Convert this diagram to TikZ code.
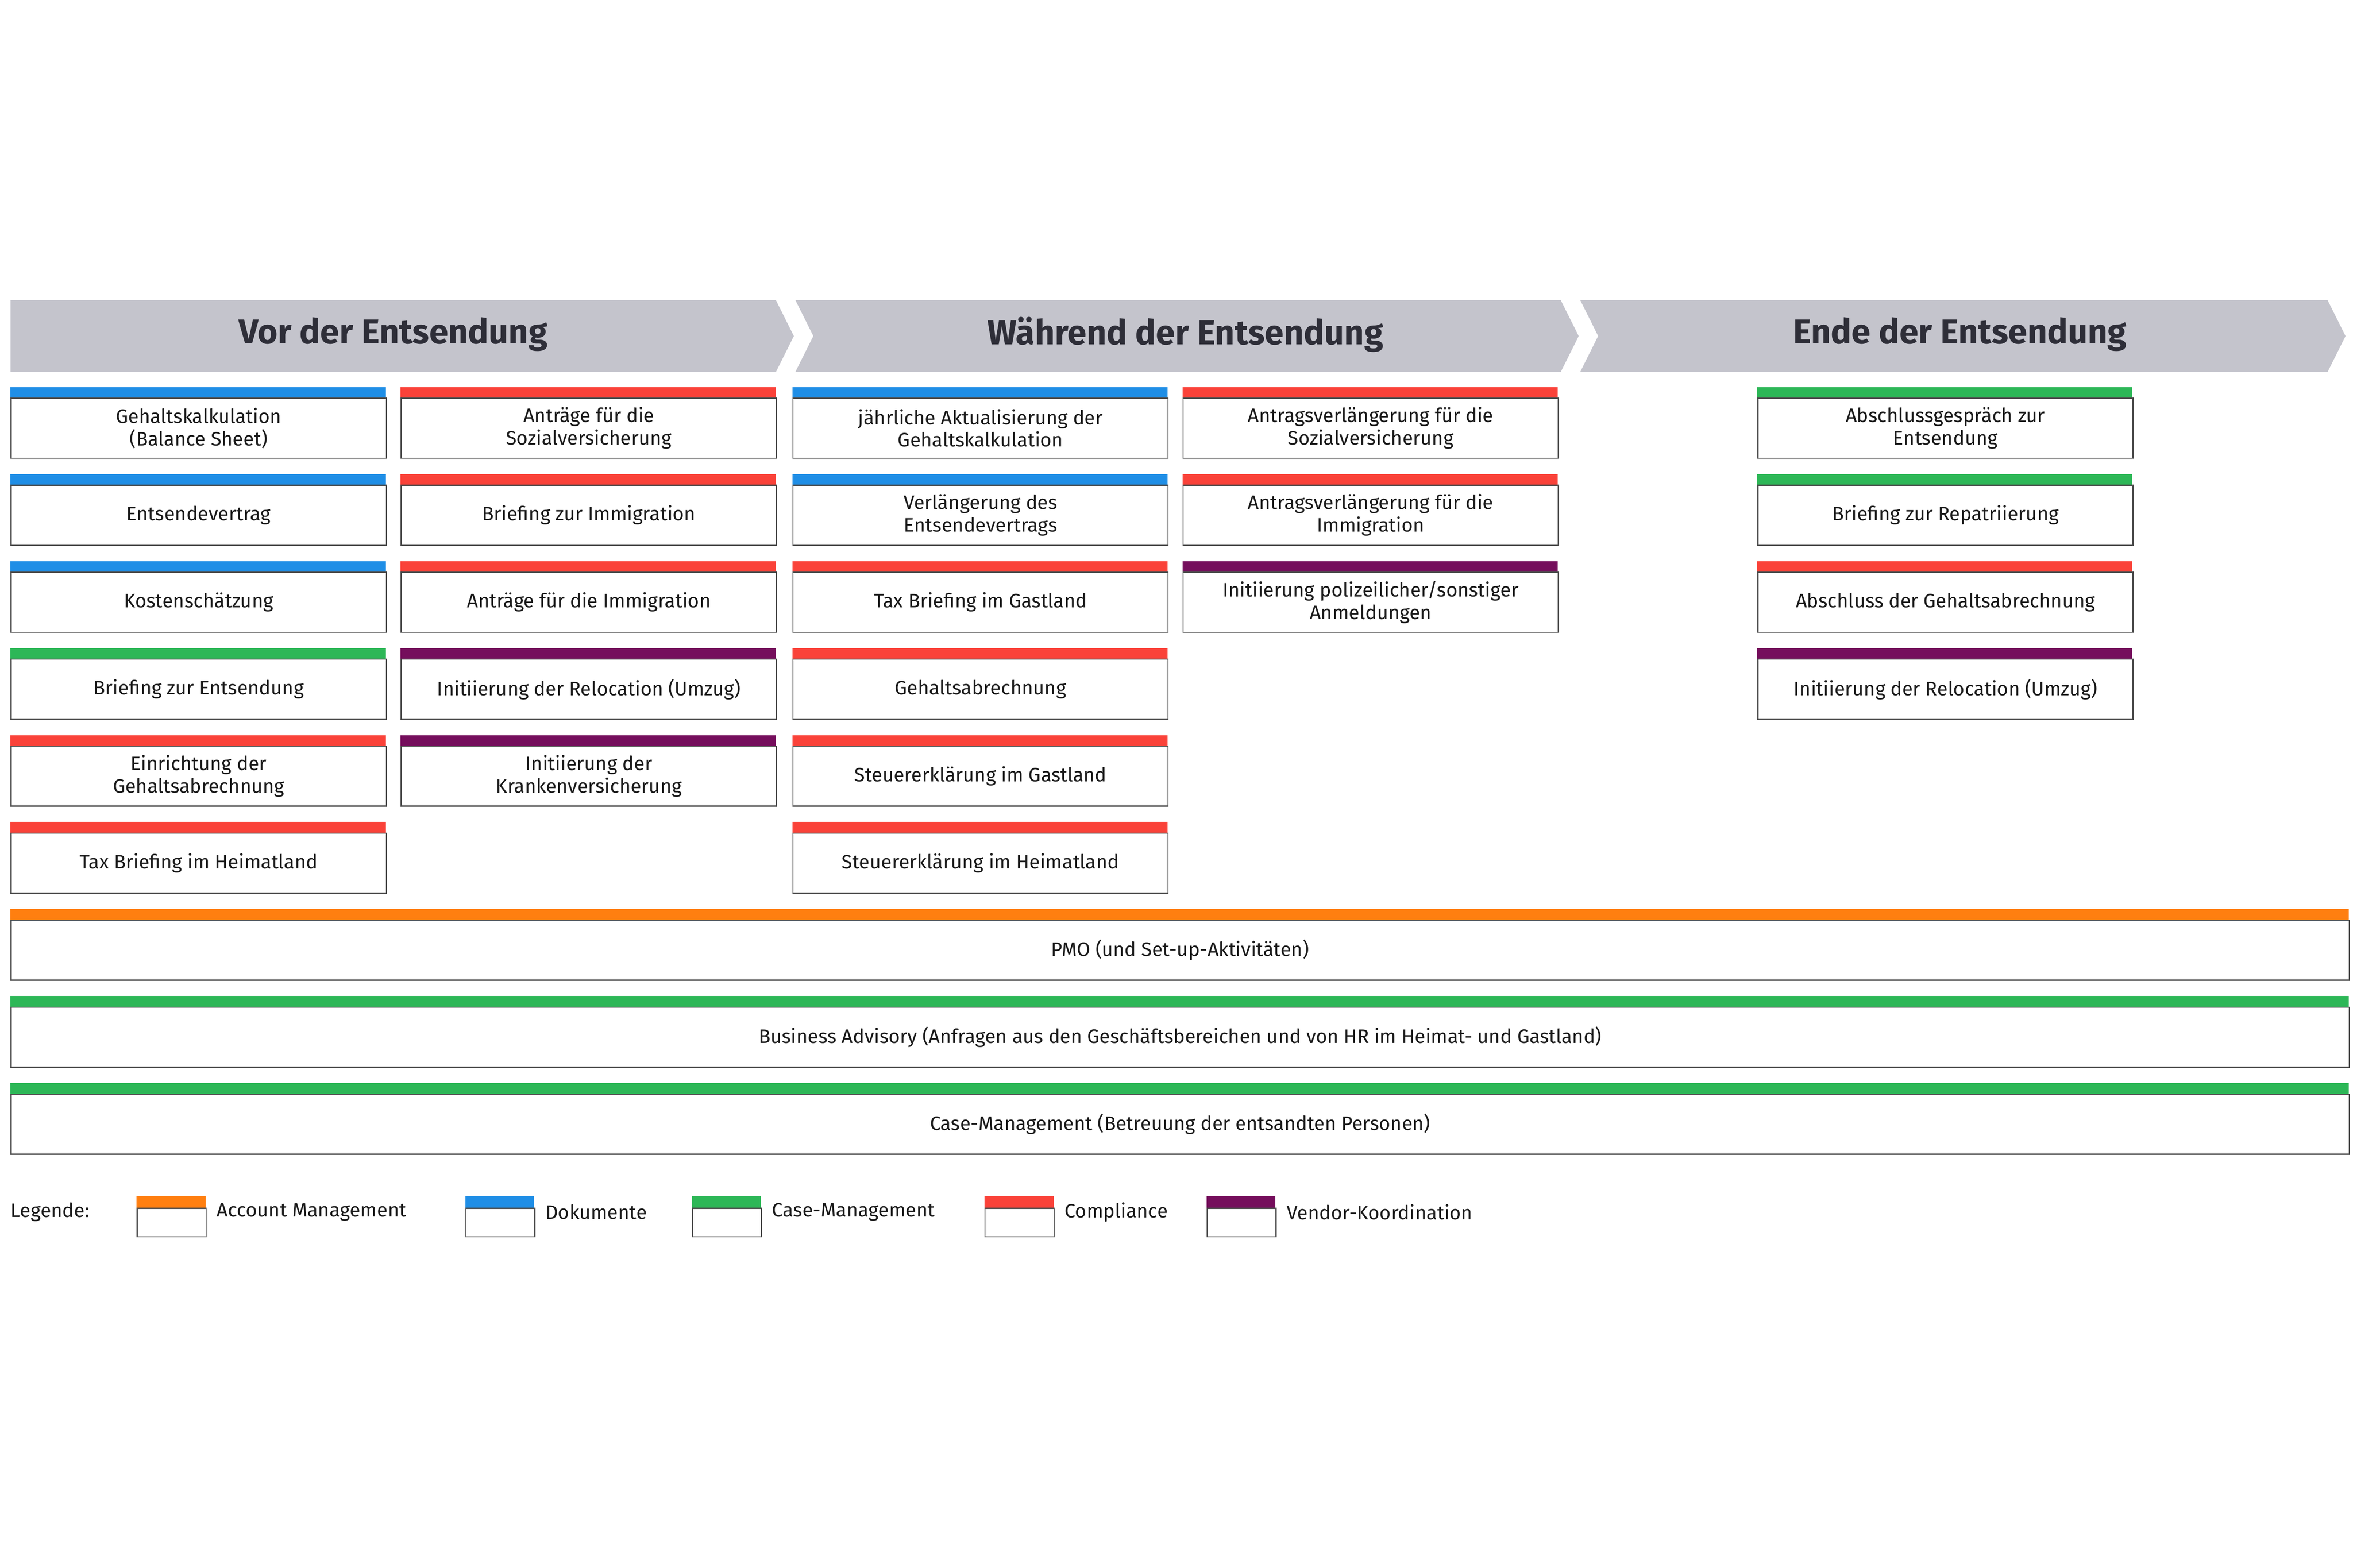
\documentclass[tikz,border=0pt]{standalone}
\usepackage{fontspec}
\setmainfont{Fira Sans}
\definecolor{cB}{HTML}{1F8EE6}
\definecolor{cR}{HTML}{FA4239}
\definecolor{cG}{HTML}{2DB757}
\definecolor{cP}{HTML}{750E5C}
\definecolor{cO}{HTML}{FF7F10}
\definecolor{cA}{HTML}{C4C4CC}
\definecolor{cT}{HTML}{2E2E38}
\tikzset{
 box/.style={draw=black!70,line width=0.8pt,anchor=north west,minimum width=250pt,minimum height=40pt,align=center,font=\fontsize{13}{15}\selectfont,text=black!90,inner sep=1pt},
 wide/.style={box,minimum width=1558pt},
 leg/.style={draw=black!70,line width=0.8pt,anchor=north west,minimum width=46pt,minimum height=19pt,inner sep=0pt},
 phase/.style={fill=cA},
 ttl/.style={font=\bfseries\fontsize{23}{26}\selectfont,text=cT},
 ltxt/.style={anchor=west,font=\fontsize{13}{15}\selectfont,text=black!90}
}
\newcommand\bx[5]{\fill[#4] (#2,#3) rectangle ++(250,7);
 \node[box] (#1) at (#2,#3+7) {#5};}
\begin{document}
\begin{tikzpicture}[x=1pt,y=-1pt]
\useasboundingbox (0,0) rectangle (1568,1045);
\fill[phase] (7,200) -- (517,200) -- (529,224) -- (517,248) -- (7,248) -- cycle;
\fill[phase] (530,200) -- (1040,200) -- (1052,224) -- (1040,248) -- (530,248) -- (542,224) -- cycle;
\fill[phase] (1053,200) -- (1551,200) -- (1563,224) -- (1551,248) -- (1053,248) -- (1065,224) -- cycle;
\node[ttl] (p1) at (262,223) {Vor der Entsendung};
\node[ttl] (p2) at (790,223) {Während der Entsendung};
\node[ttl] (p3) at (1306,223) {Ende der Entsendung};
\bx{a1}{7}{258}{cB}{Gehaltskalkulation\\(Balance Sheet)}
\bx{a2}{7}{316}{cB}{Entsendevertrag}
\bx{a3}{7}{374}{cB}{Kostenschätzung}
\bx{a4}{7}{432}{cG}{Briefing zur Entsendung}
\bx{a5}{7}{490}{cR}{Einrichtung der\\Gehaltsabrechnung}
\bx{a6}{7}{548}{cR}{Tax Briefing im Heimatland}
\bx{b1}{267}{258}{cR}{Anträge für die\\Sozialversicherung}
\bx{b2}{267}{316}{cR}{Briefing zur Immigration}
\bx{b3}{267}{374}{cR}{Anträge für die Immigration}
\bx{b4}{267}{432}{cP}{Initiierung der Relocation (Umzug)}
\bx{b5}{267}{490}{cP}{Initiierung der\\Krankenversicherung}
\bx{c1}{528}{258}{cB}{jährliche Aktualisierung der\\Gehaltskalkulation}
\bx{c2}{528}{316}{cB}{Verlängerung des\\Entsendevertrags}
\bx{c3}{528}{374}{cR}{Tax Briefing im Gastland}
\bx{c4}{528}{432}{cR}{Gehaltsabrechnung}
\bx{c5}{528}{490}{cR}{Steuererklärung im Gastland}
\bx{c6}{528}{548}{cR}{Steuererklärung im Heimatland}
\bx{d1}{788}{258}{cR}{Antragsverlängerung für die\\Sozialversicherung}
\bx{d2}{788}{316}{cR}{Antragsverlängerung für die\\Immigration}
\bx{d3}{788}{374}{cP}{Initiierung polizeilicher/sonstiger\\Anmeldungen}
\bx{e1}{1171}{258}{cG}{Abschlussgespräch zur\\Entsendung}
\bx{e2}{1171}{316}{cG}{Briefing zur Repatriierung}
\bx{e3}{1171}{374}{cR}{Abschluss der Gehaltsabrechnung}
\bx{e4}{1171}{432}{cP}{Initiierung der Relocation (Umzug)}
\fill[cO] (7,606) rectangle ++(1558,7);
\node[wide] (w1) at (7,613) {PMO (und Set-up-Aktivitäten)};
\fill[cG] (7,664) rectangle ++(1558,7);
\node[wide] (w2) at (7,671) {Business Advisory (Anfragen aus den Geschäftsbereichen und von HR im Heimat- und Gastland)};
\fill[cG] (7,722) rectangle ++(1558,7);
\node[wide] (w3) at (7,729) {Case-Management (Betreuung der entsandten Personen)};
\node[ltxt,inner sep=0pt] (lg) at (7,808) {Legende:};
\foreach \x/\c/\t/\n in {91/cO/Account Management/l1,310/cB/Dokumente/l2,461/cG/Case-Management/l3,656/cR/Compliance/l4,804/cP/Vendor-Koordination/l5}{
 \fill[\c] (\x,797) rectangle ++(46,8);
 \node[leg] (\n) at (\x,805) {};
 \node[ltxt] (\n t) at (\x+50,808) {\t};
}
\end{tikzpicture}
\end{document}
